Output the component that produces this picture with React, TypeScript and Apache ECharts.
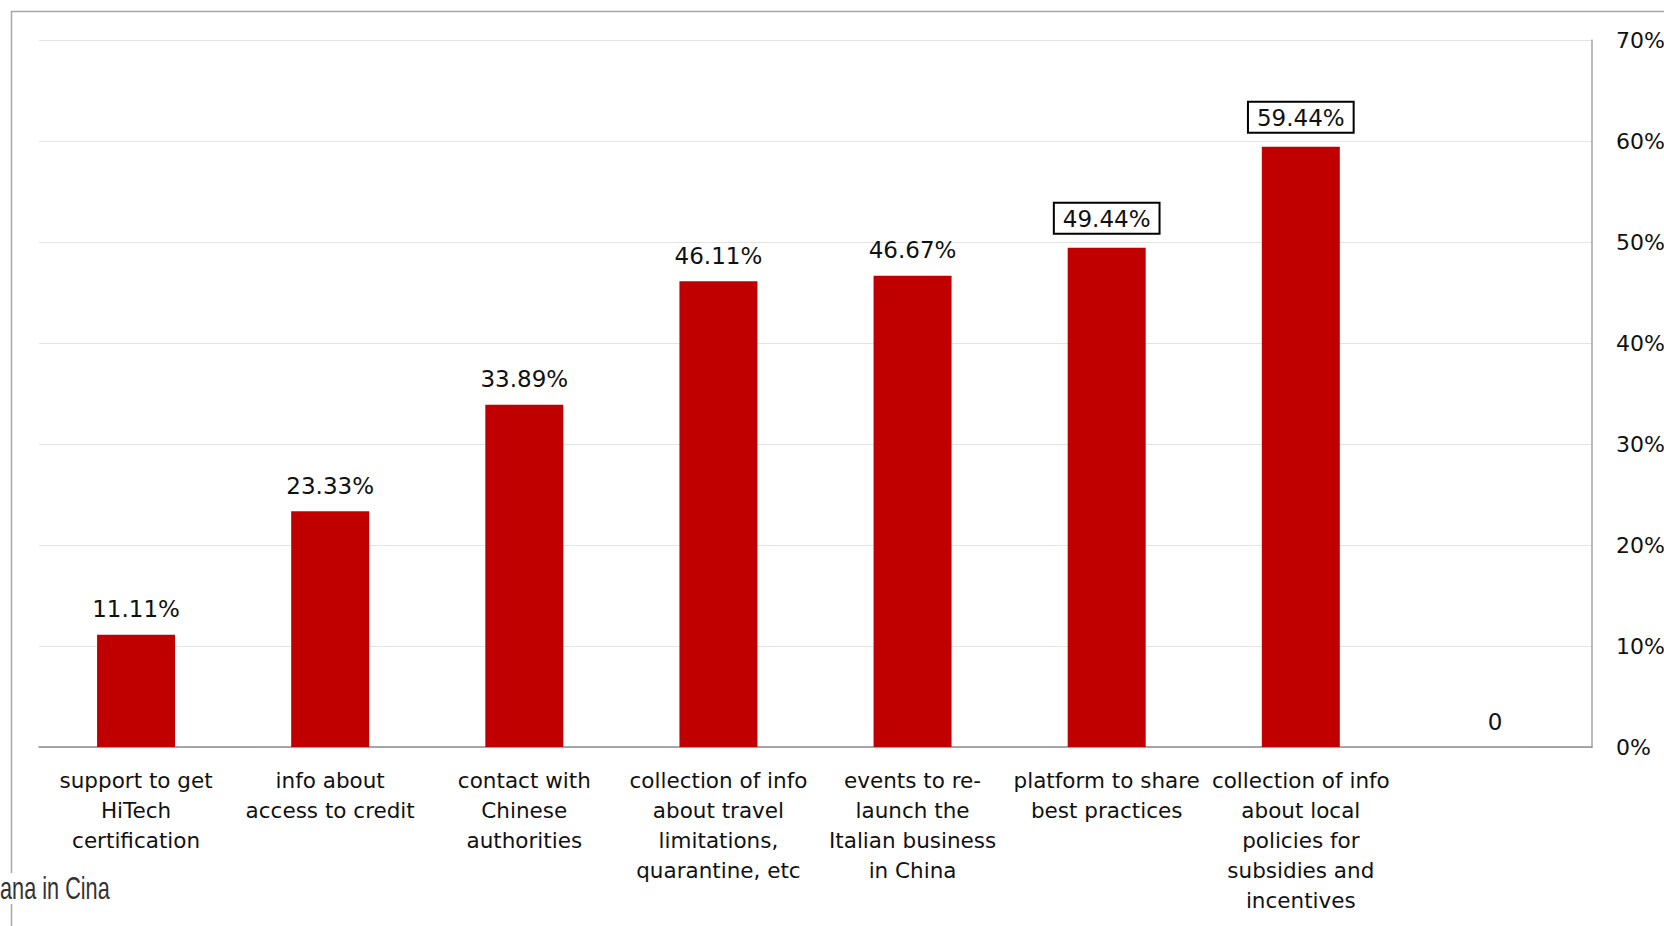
import React, { useEffect, useRef } from "react";
import * as echarts from "echarts";

const categories = [
  "support to get\nHiTech\ncertification",
  "info about\naccess to credit",
  "contact with\nChinese\nauthorities",
  "collection of info\nabout travel\nlimitations,\nquarantine, etc",
  "events to re-\nlaunch the\nItalian business\nin China",
  "platform to share\nbest practices",
  "collection of info\nabout local\npolicies for\nsubsidies and\nincentives",
  "",
];
const values = [0.1111, 0.2333, 0.3389, 0.4611, 0.4667, 0.4944, 0.5944, 0];
const boxedIndices = [5, 6];
const yTicks = [0, 0.1, 0.2, 0.3, 0.4, 0.5, 0.6, 0.7];
const sourceText = "ana in Cina";

const FONT = "'DejaVu Sans', 'Liberation Sans', sans-serif";

export default function App() {
  const ref = useRef<HTMLDivElement>(null);
  useEffect(() => {
    if (!ref.current) return;
    const chart = echarts.init(ref.current, null, { renderer: "svg" });
    const data = values.map((v, i) => {
      const boxed = boxedIndices.includes(i);
      return {
        value: v,
        label: boxed
          ? {
              borderColor: "#000",
              borderWidth: 2,
              padding: [4, 8, 2, 8],
              distance: 15,
              backgroundColor: "#fff",
            }
          : {},
      };
    });
    chart.setOption({
      animation: false,
      backgroundColor: "#fff",
      grid: {
        left: 39,
        right: 72,
        top: 40,
        bottom: 179,
        containLabel: false,
        outerBoundsMode: "none",
      },
      xAxis: {
        type: "category",
        data: categories,
        axisTick: { show: false },
        axisLine: { show: true, lineStyle: { color: "#8c8c8c", width: 1.5 } },
        axisLabel: {
          interval: 0,
          hideOverlap: false,
          color: "#111",
          fontFamily: FONT,
          fontSize: 21.5,
          lineHeight: 30,
          margin: 18,
          align: "center",
          verticalAlign: "top",
        },
      },
      yAxis: {
        type: "value",
        position: "right",
        min: yTicks[0],
        max: yTicks[yTicks.length - 1],
        interval: 0.1,
        axisLine: { show: true, lineStyle: { color: "#a6a6a6", width: 1.5 } },
        axisTick: { show: false },
        splitLine: { show: true, lineStyle: { color: "#e3e3e3", width: 1 } },
        axisLabel: {
          color: "#111",
          fontFamily: FONT,
          fontSize: 22,
          margin: 24,
          formatter: (v: number) => `${Math.round(v * 100)}%`,
        },
      },
      series: [
        {
          type: "bar",
          data,
          barWidth: 78,
          itemStyle: { color: "#C00000" },
          label: {
            show: true,
            position: "top",
            distance: 14,
            color: "#111",
            fontFamily: FONT,
            fontSize: 23,
            formatter: (p: any) =>
              p.value === 0 ? "0" : `${(p.value * 100).toFixed(2)}%`,
          },
        },
      ],
      graphic: [
        {
          type: "rect",
          left: 9,
          top: 9,
          shape: { width: 1700, height: 1000 },
          style: { fill: "none", stroke: "#a6a6a6", lineWidth: 1.5 },
          z: -1,
          silent: true,
        },
        {
          type: "text",
          x: 0,
          y: 873,
          scaleX: 0.7,
          style: {
            text: sourceText,
            fill: "#333",
            fontSize: 31,
            fontFamily: "'Liberation Sans', Arial, sans-serif",
            backgroundColor: "#fff",
          },
          z: 10,
        },
      ],
    });
    return () => chart.dispose();
  }, []);
  return (
    <div
      ref={ref}
      style={{ position: "absolute", left: 0, top: 0, width: 1664, height: 926 }}
    />
  );
}
